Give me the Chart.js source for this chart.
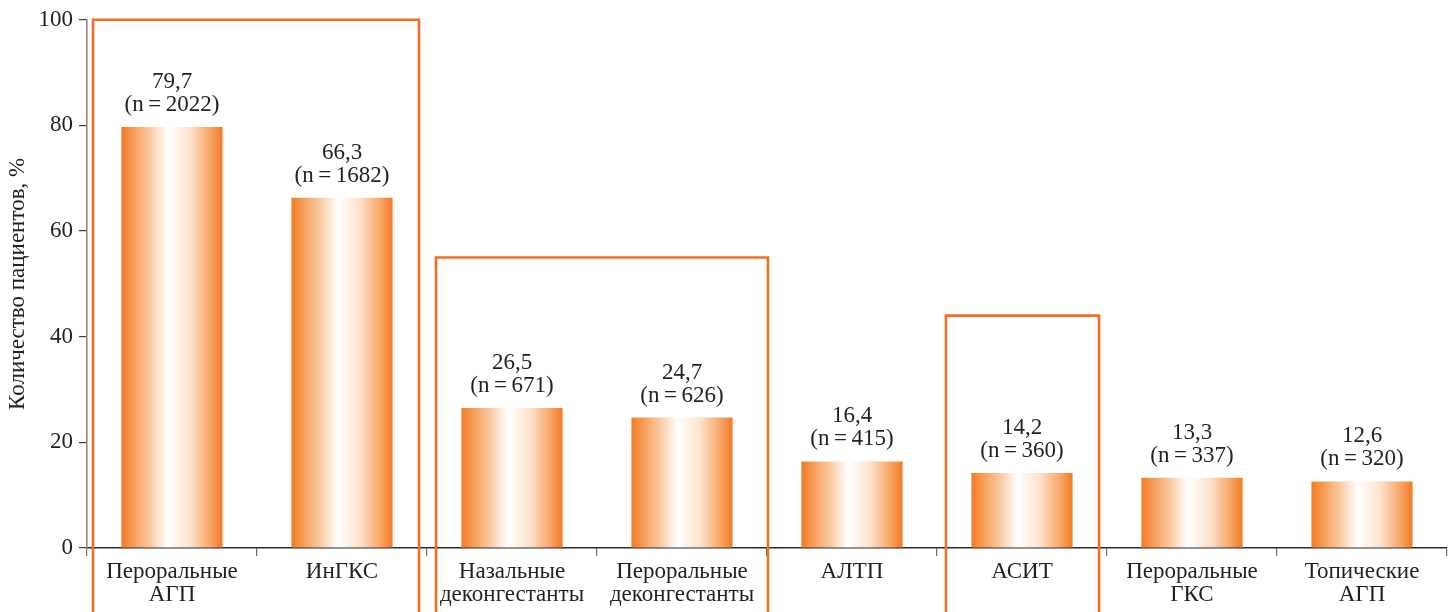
<!DOCTYPE html>
<html lang="ru">
<head>
<meta charset="utf-8">
<title>Количество пациентов</title>
<script src="https://cdn.jsdelivr.net/npm/chart.js@4.4.1/dist/chart.umd.min.js"></script>
<style>
  html, body { margin: 0; padding: 0; background: #fff; }
  #wrap { position: relative; width: 1456px; height: 612px; }
</style>
</head>
<body>
<div id="wrap"><canvas id="therapyChart"></canvas></div>
<script>
// Данные
const categories = [
    ['Пероральные', 'АГП'],
    'ИнГКС',
    ['Назальные', 'деконгестанты'],
    ['Пероральные', 'деконгестанты'],
    'АЛТП',
    'АСИТ',
    ['Пероральные', 'ГКС'],
    ['Топические', 'АГП']
];
const percentValues = [79.7, 66.3, 26.5, 24.7, 16.4, 14.2, 13.3, 12.6];
const patientCounts = [2022, 1682, 671, 626, 415, 360, 337, 320];
const yTicks = [0, 20, 40, 60, 80, 100];

// Группы, обведённые рамкой: первый и последний индекс категории, верх рамки в %
const groupFirst = [0, 2, 5];
const groupLast = [1, 3, 5];
const groupTop = [100, 55, 44];

const ORANGE = '#f37a24';
const FRAME = '#f26d25';
const TEXT = '#231f20';
const FONT = '"Liberation Serif", "DejaVu Serif", serif';
const BAR_PCT = 0.595;

function formatPercent(v) {
    return v.toFixed(1).replace('.', ',');
}

// Горизонтальный градиент: оранжевые края, белая середина
function barGradient(context) {
    const chart = context.chart;
    const xScale = chart.scales.x;
    if (!chart.chartArea || !xScale) return ORANGE;
    const cx = xScale.getPixelForValue(context.dataIndex);
    const half = (xScale.width / categories.length) * BAR_PCT / 2;
    const g = chart.ctx.createLinearGradient(cx - half, 0, cx + half, 0);
    g.addColorStop(0, ORANGE);
    g.addColorStop(0.1, '#f5984f');
    g.addColorStop(0.28, '#fac9a1');
    g.addColorStop(0.46, '#ffffff');
    g.addColorStop(0.68, '#fde2cc');
    g.addColorStop(0.88, '#f7a565');
    g.addColorStop(1, ORANGE);
    return g;
}

// Подписи над столбцами: значение и число пациентов
const valueLabels = {
    id: 'valueLabels',
    afterDatasetsDraw(chart) {
        const ctx = chart.ctx;
        const meta = chart.getDatasetMeta(0);
        ctx.save();
        ctx.font = '23px ' + FONT;
        ctx.fillStyle = TEXT;
        ctx.textAlign = 'center';
        ctx.textBaseline = 'alphabetic';
        meta.data.forEach((bar, i) => {
            ctx.fillText(formatPercent(percentValues[i]), bar.x, bar.y - 39);
            ctx.fillText('(n\u2009=\u2009' + patientCounts[i] + ')', bar.x, bar.y - 16);
        });
        ctx.restore();
    }
};

// Рамки вокруг групп препаратов
const groupFrames = {
    id: 'groupFrames',
    afterDraw(chart) {
        const ctx = chart.ctx;
        const xs = chart.scales.x;
        const ys = chart.scales.y;
        const step = xs.width / categories.length;
        ctx.save();
        ctx.strokeStyle = FRAME;
        ctx.lineWidth = 2.6;
        groupFirst.forEach((first, g) => {
            const left = xs.getPixelForValue(first) - step / 2 + (g === 0 ? 6 : 9);
            const right = xs.getPixelForValue(groupLast[g]) + step / 2 - (g === 1 ? -1 : 8);
            const top = ys.getPixelForValue(groupTop[g]);
            const bottom = chart.height + 10;
            ctx.beginPath();
            ctx.moveTo(left, bottom);
            ctx.lineTo(left, top);
            ctx.lineTo(right, top);
            ctx.lineTo(right, bottom);
            ctx.stroke();
        });
        ctx.restore();
    }
};

const ctx = document.getElementById('therapyChart').getContext('2d');
new Chart(ctx, {
    type: 'bar',
    data: {
        labels: categories,
        datasets: [{
            data: percentValues,
            backgroundColor: barGradient,
            borderWidth: 0,
            categoryPercentage: 1,
            barPercentage: BAR_PCT
        }]
    },
    options: {
        responsive: true,
        maintainAspectRatio: false,
        animation: false,
        layout: { padding: { top: 13, right: 9, left: 0, bottom: 0 } },
        plugins: {
            legend: { display: false },
            tooltip: { enabled: false }
        },
        scales: {
            x: {
                grid: {
                    display: true,
                    drawOnChartArea: false,
                    drawTicks: true,
                    tickLength: 8,
                    color: '#6d6d6d',
                    lineWidth: 1.2
                },
                border: { display: true, color: '#2a2a2a', width: 1.4 },
                ticks: {
                    color: TEXT,
                    font: { family: FONT, size: 23, lineHeight: 1.0 },
                    padding: 4,
                    maxRotation: 0,
                    autoSkip: false
                },
                afterFit(scale) { scale.height = 64; }
            },
            y: {
                min: 0,
                max: 100,
                afterBuildTicks(scale) {
                    scale.ticks = yTicks.map(v => ({ value: v }));
                },
                grid: {
                    display: true,
                    drawOnChartArea: false,
                    drawTicks: true,
                    tickLength: 8,
                    color: '#3a3a3a',
                    lineWidth: 1.2
                },
                border: { display: true, color: '#8a8a8a', width: 1.6 },
                ticks: {
                    color: TEXT,
                    font: { family: FONT, size: 23 },
                    padding: 6
                },
                title: {
                    display: true,
                    text: 'Количество пациентов, %',
                    color: TEXT,
                    font: { family: FONT, size: 23 },
                    padding: { top: 4, bottom: 0 }
                },
                afterFit(scale) { scale.width = 87; }
            }
        }
    },
    plugins: [valueLabels, groupFrames]
});
</script>
</body>
</html>
